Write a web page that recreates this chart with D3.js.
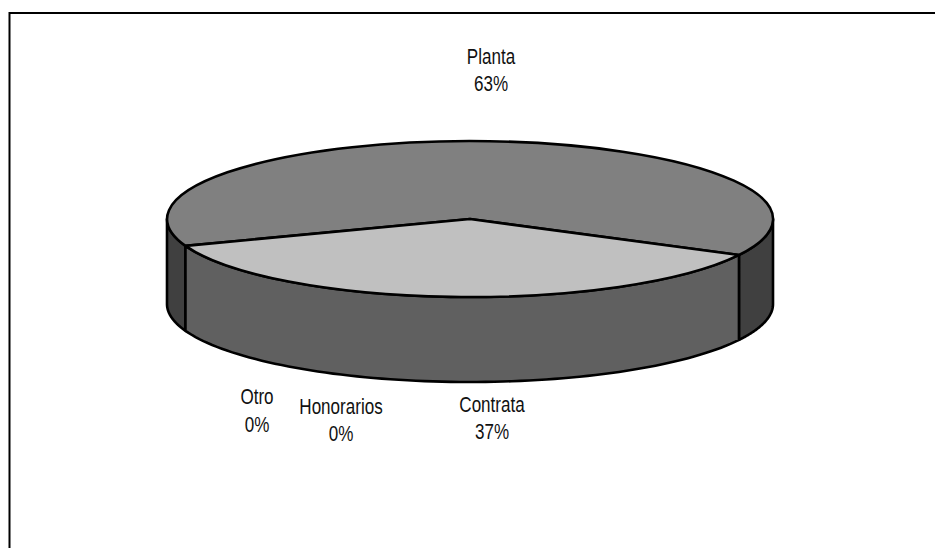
<!DOCTYPE html>
<html lang="es">
<head>
<meta charset="UTF-8">
<title>Planta / Contrata</title>
<script src="https://cdnjs.cloudflare.com/ajax/libs/d3/7.8.5/d3.min.js"></script>
<style>
    body { margin: 0; background: #fff; }
    svg { display: block; }
    .label { font-family: "Liberation Sans", Arial, sans-serif; font-size: 22px; fill: #111; text-anchor: middle; }
</style>
</head>
<body>
<svg width="935" height="548"></svg>
<script>
// values
const categories = ["Planta", "Contrata", "Honorarios", "Otro"];
const values = [63.2, 36.8, 0, 0];
const topColors = ["#808080", "#c0c0c0", "#808080", "#808080"];
const wallColors = ["#404040", "#606060", "#404040", "#404040"];

// layout
const cx = 470, cy = 219, rx = 303, ry = 78, depth = 85;
const textSquash = 0.775; // the reference type is tall and narrow
const labelPos = {
    Planta: [491, 63.5, 90.5],
    Contrata: [492, 412, 438.5],
    Honorarios: [341, 414, 440.5],
    Otro: [257, 404, 432]
};

const svg = d3.select("svg");

// frame, cut by the right and bottom edge of the picture
svg.append("path")
    .attr("d", "M9.5,548V13H935")
    .attr("fill", "none")
    .attr("stroke", "#000")
    .attr("stroke-width", 2);

const pie = d3.pie().sort(null)
    .startAngle(-110.1 * Math.PI / 180)
    .endAngle(249.9 * Math.PI / 180);
const slices = pie(values);
const pct = d3.format(".0f");
const total = d3.sum(values);

// angle is measured clockwise from the top, like d3.pie
const px = a => cx + rx * Math.sin(a);
const py = a => cy - ry * Math.cos(a);
const line = d3.line();

function rim(a0, a1) {
    const n = 80;
    return d3.range(n + 1).map(i => a0 + (a1 - a0) * i / n);
}

function wall(a0, a1) {
    const angles = rim(a0, a1);
    const pts = angles.map(a => [px(a), py(a)])
        .concat(angles.slice().reverse().map(a => [px(a), py(a) + depth]));
    return line(pts) + "Z";
}

// visible part of the wall is the front half, 90 to 270 degrees
const front0 = Math.PI / 2, front1 = Math.PI * 1.5;
const wallPieces = [];
slices.forEach((d, i) => {
    if (d.value === 0) return;
    [0, 2 * Math.PI].forEach(shift => {
        const a0 = Math.max(d.startAngle + shift, front0);
        const a1 = Math.min(d.endAngle + shift, front1);
        if (a1 > a0) wallPieces.push({ a0, a1, color: wallColors[i] });
    });
});

svg.append("g").selectAll("path")
    .data(wallPieces)
    .enter().append("path")
    .attr("d", d => wall(d.a0, d.a1))
    .attr("fill", d => d.color)
    .attr("stroke", "#000")
    .attr("stroke-width", 2.6)
    .attr("stroke-linejoin", "round");

// top of the pie: unit arcs squashed into an ellipse
const arc = d3.arc().innerRadius(0).outerRadius(1);
svg.append("g")
    .attr("transform", `translate(${cx},${cy}) scale(${rx},${ry})`)
    .selectAll("path")
    .data(slices.filter(d => d.value > 0))
    .enter().append("path")
    .attr("d", arc)
    .attr("fill", d => topColors[d.index])
    .attr("stroke", "#000")
    .attr("stroke-width", 2.6)
    .attr("stroke-linejoin", "round")
    .attr("vector-effect", "non-scaling-stroke");

// labels
const label = svg.append("g").selectAll("g")
    .data(categories)
    .enter().append("g");

label.append("text")
    .attr("class", "label")
    .attr("transform", d => `translate(${labelPos[d][0]},${labelPos[d][1]}) scale(${textSquash},1)`)
    .text(d => d);

label.append("text")
    .attr("class", "label")
    .attr("transform", d => `translate(${labelPos[d][0]},${labelPos[d][2]}) scale(${textSquash},1)`)
    .text((d, i) => pct(values[i] / total * 100) + "%");
</script>
</body>
</html>
